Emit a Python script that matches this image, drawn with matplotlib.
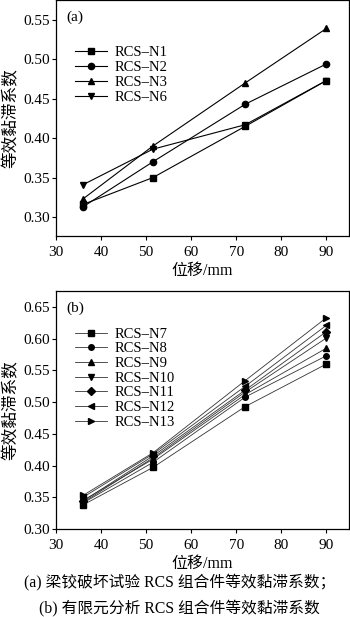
import matplotlib
matplotlib.use('Agg')
import matplotlib.pyplot as plt

plt.rcParams['font.family'] = ['Liberation Serif', 'Noto Sans CJK SC']

# displacement (mm)
disp = [36, 51.5, 72, 90]

# (a) test specimens
labels_a = ['RCS–N1', 'RCS–N2', 'RCS–N3', 'RCS–N6']
n1 = [0.316, 0.350, 0.415, 0.473]
n2 = [0.313, 0.370, 0.443, 0.494]
n3 = [0.323, 0.390, 0.470, 0.539]
n6 = [0.341, 0.386, 0.417, 0.473]
markers_a = ['s', 'o', '^', 'v']

# (b) finite element
labels_b = ['RCS–N7', 'RCS–N8', 'RCS–N9', 'RCS–N10', 'RCS–N11', 'RCS–N12', 'RCS–N13']
n7 = [0.338, 0.397, 0.493, 0.560]
n8 = [0.341, 0.405, 0.508, 0.573]
n9 = [0.345, 0.410, 0.512, 0.585]
n10 = [0.342, 0.412, 0.516, 0.601]
n11 = [0.344, 0.415, 0.519, 0.611]
n12 = [0.350, 0.418, 0.525, 0.621]
n13 = [0.353, 0.420, 0.534, 0.633]
markers_b = ['s', 'o', '^', 'v', 'D', '<', '>']

ylabel = '等效黏滞系数'
xlabel = '位移/mm'
caption_a = '(a) 梁铰破坏试验 RCS 组合件等效黏滞系数；'
caption_b = '(b) 有限元分析 RCS 组合件等效黏滞系数'

fig = plt.figure(figsize=(3.5, 6.17), dpi=100)
ax1 = fig.add_axes([0.16, 0.6175, 0.837, 0.3825])
ax2 = fig.add_axes([0.16, 0.1426, 0.837, 0.3857])

for ys, m, lab in zip([n1, n2, n3, n6], markers_a, labels_a):
    ax1.plot(disp, ys, color='black', lw=0.8, marker=m, ms=4.5, label=lab)
ax1.set_xlim(30, 95)
ax1.set_ylim(0.276, 0.575)
ax1.set_xticks([30, 40, 50, 60, 70, 80, 90])
ax1.set_yticks([0.30, 0.35, 0.40, 0.45, 0.50, 0.55])
ax1.set_yticklabels(['0.30', '0.35', '0.40', '0.45', '0.50', '0.55'])
ax1.text(0.035, 0.955, '(a)', transform=ax1.transAxes, fontsize=11, va='top')
ax1.legend(loc='upper left', bbox_to_anchor=(0.03, 0.85), frameon=False,
           fontsize=10.5, handlelength=2.2, handletextpad=0.5,
           labelspacing=0.12, borderpad=0.2)

for ys, m, lab in zip([n7, n8, n9, n10, n11, n12, n13], markers_b, labels_b):
    ax2.plot(disp, ys, color='#333333', lw=0.6, marker=m, ms=4,
             mfc='black', mec='black', label=lab)
ax2.set_xlim(30, 95)
ax2.set_ylim(0.30, 0.675)
ax2.set_xticks([30, 40, 50, 60, 70, 80, 90])
ax2.set_yticks([0.30, 0.35, 0.40, 0.45, 0.50, 0.55, 0.60, 0.65])
ax2.set_yticklabels(['0.30', '0.35', '0.40', '0.45', '0.50', '0.55', '0.60', '0.65'])
ax2.text(0.035, 0.955, '(b)', transform=ax2.transAxes, fontsize=11, va='top')
ax2.legend(loc='upper left', bbox_to_anchor=(0.03, 0.89), frameon=False,
           fontsize=10.5, handlelength=2.2, handletextpad=0.5,
           labelspacing=0.1, borderpad=0.2)

for ax in (ax1, ax2):
    ax.tick_params(labelsize=11, direction='out', length=3, width=0.8)
    ax.tick_params(axis='x', pad=4)
    ax.tick_params(axis='y', pad=1)
    for s in ax.spines.values():
        s.set_linewidth(0.9)
    ax.set_ylabel(ylabel, fontsize=12, labelpad=3)
    ax.set_xlabel(xlabel, fontsize=11.5, labelpad=3)

fig.text(0.514, 0.056, caption_a, ha='center', va='center', fontsize=11.3)
fig.text(0.514, 0.013, caption_b, ha='center', va='center', fontsize=11.3)

fig.savefig('out.png', dpi=100)
